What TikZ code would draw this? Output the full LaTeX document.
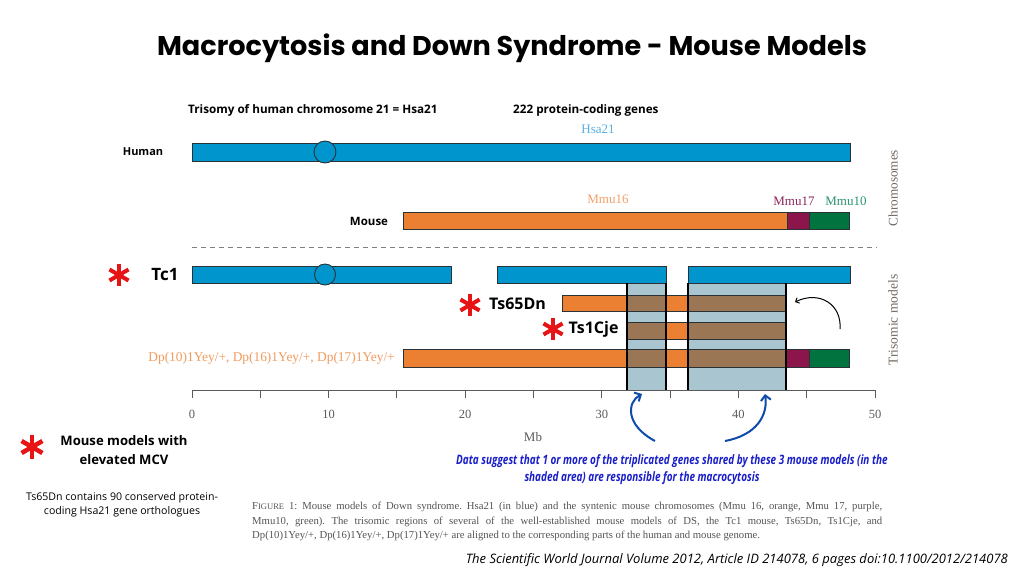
\documentclass[tikz,border=0pt]{standalone}
\usepackage{fontspec}
\setmainfont{Open Sans}
\newfontfamily\titlefont{Poppins}
\newfontfamily\serif{Liberation Serif}
\usetikzlibrary{arrows.meta}
\definecolor{hblue}{RGB}{0,150,205}
\definecolor{outl}{RGB}{40,50,55}
\definecolor{orng}{RGB}{235,128,50}
\definecolor{purp}{RGB}{140,22,75}
\definecolor{grn}{RGB}{0,115,62}
\definecolor{colshade}{RGB}{168,197,208}
\definecolor{brwn}{RGB}{155,118,84}
\definecolor{hsalbl}{RGB}{90,175,225}
\definecolor{mmusixc}{RGB}{242,160,105}
\definecolor{mmusevc}{RGB}{140,40,90}
\definecolor{mmutenc}{RGB}{40,150,110}
\definecolor{dplbl}{RGB}{240,155,95}
\definecolor{rotc}{RGB}{115,105,95}
\definecolor{starred}{RGB}{230,20,20}
\definecolor{msgblue}{RGB}{25,30,200}
\definecolor{arrowblue}{RGB}{15,75,170}
\definecolor{capgray}{RGB}{85,85,85}
\definecolor{axgray}{RGB}{90,90,90}
\newcommand\starat[4]{\foreach \a in {90,30,-30,-90,-150,150} \draw[starred, line width=#4] (#1,#2) -- ++(\a:#3);}
\frenchspacing
\begin{document}
\begin{tikzpicture}[x=1pt,y=-1pt,
  bar/.style={draw=outl, line width=0.9pt},
  boldlbl/.style={font=\bfseries\fontsize{11.7}{13}\selectfont, inner sep=0pt},
  serlbl/.style={font=\serif\fontsize{13}{15}\selectfont, inner sep=0pt},
  modlbl/.style={font=\bfseries\fontsize{16}{18}\selectfont, inner sep=0pt},
  ticklbl/.style={font=\serif\fontsize{12.5}{14}\selectfont, text=axgray, inner sep=0pt},
  capline/.style={font=\serif\fontsize{10.7}{12}\selectfont, text=capgray, inner sep=0pt, anchor=base west},
  msgline/.style={font=\bfseries\itshape\fontsize{11}{13}\selectfont, text=msgblue, inner sep=0pt},
  bluearrow/.style={draw=arrowblue, line width=2pt, -{Straight Barb[length=5pt,width=10pt,line width=2pt]}},
  colline/.style={draw=black, line width=2pt}]
\fill[white] (0,0) rectangle (1024,576);
\useasboundingbox (0,0) rectangle (1024,576);

% title
\node[font=\titlefont\bfseries\fontsize{27.1}{32}\selectfont, inner sep=0pt] (title) at (512,48) {Macrocytosis and Down Syndrome - Mouse Models};

% top labels
\node[boldlbl, anchor=west] (trisomy) at (188,110) {Trisomy of human chromosome 21 = Hsa21};
\node[boldlbl, anchor=west] (genes) at (513,110) {222 protein-coding genes};
\node[serlbl, text=hsalbl] (hsa) at (598,129) {Hsa21};

% human
\node[boldlbl, font=\bfseries\fontsize{11}{13}\selectfont] (human) at (143,152) {Human};
\draw[bar, fill=hblue] (192,143) rectangle (850,161);
\draw[bar, fill=hblue] (325,152) circle (11);

% mouse
\node[serlbl, text=mmusixc] (mmu16) at (608,199) {Mmu16};
\node[serlbl, text=mmusevc] (mmu17) at (794,201) {Mmu17};
\node[serlbl, text=mmutenc] (mmu10) at (846,201) {Mmu10};
\node[boldlbl, font=\bfseries\fontsize{11.5}{13}\selectfont] (mouse) at (369,221) {Mouse};
\draw[bar, fill=orng] (403,212) rectangle (787,229);
\draw[bar, fill=purp] (787,212) rectangle (809,229);
\draw[bar, fill=grn] (809,212) rectangle (849,229);

% separator
\draw[gray, line width=1pt, dash pattern=on 5pt off 4pt] (192,247) -- (877,247);

% side labels
\node[serlbl, font=\serif\fontsize{13.2}{15}\selectfont, rotate=90, text=rotc] (chrom) at (893,188) {Chromosomes};
\node[serlbl, font=\serif\fontsize{13.5}{15}\selectfont, rotate=90, text=rotc] (trimod) at (893,320) {Trisomic models};

% shaded columns
\fill[colshade] (627,283) rectangle (666,390);
\fill[colshade] (688,283) rectangle (786,390);

% Tc1
\starat{119}{275}{11}{4pt}
\node[modlbl, font=\bfseries\fontsize{17}{19}\selectfont] (tc1) at (165,275) {Tc1};
\draw[bar, fill=hblue] (192,266) rectangle (451,283);
\draw[bar, fill=hblue] (325,274.5) circle (10.5);
\draw[bar, fill=hblue] (497,266) rectangle (666,283);
\draw[bar, fill=hblue] (688,266) rectangle (850,283);

% Ts65Dn
\starat{470}{305}{11}{4pt}
\node[modlbl] (ts65) at (517.5,304) {Ts65Dn};
\draw[bar, fill=orng] (562,295) rectangle (627,311);
\draw[bar, fill=brwn] (627,295) rectangle (666,311);
\draw[bar, fill=orng] (666,295) rectangle (688,311);
\draw[bar, fill=brwn] (688,295) rectangle (786,311);

% Ts1Cje
\starat{553}{329}{11}{4pt}
\node[modlbl] (ts1) at (593.5,329) {Ts1Cje};
\draw[bar, fill=brwn] (627,322) rectangle (666,339);
\draw[bar, fill=orng] (666,322) rectangle (688,339);
\draw[bar, fill=brwn] (688,322) rectangle (786,339);

% Dp
\node[serlbl, text=dplbl, anchor=east, font=\serif\fontsize{13.4}{15}\selectfont] (dp) at (395,358) {Dp(10)1Yey/+, Dp(16)1Yey/+, Dp(17)1Yey/+};
\draw[bar, fill=orng] (403,349) rectangle (627,367);
\draw[bar, fill=brwn] (627,349) rectangle (666,367);
\draw[bar, fill=orng] (666,349) rectangle (688,367);
\draw[bar, fill=brwn] (688,349) rectangle (786,367);
\draw[bar, fill=purp] (786,349) rectangle (809,367);
\draw[bar, fill=grn] (809,349) rectangle (849,367);

% column edges
\draw[colline] (627,283) -- (627,390);
\draw[colline] (666,283) -- (666,390);
\draw[colline] (688,283) -- (688,390);
\draw[colline] (786,283) -- (786,390);

% axis
\draw[axgray, line width=1pt] (192,390) -- (875,390);
\foreach \v in {0,5,...,50} \draw[axgray, line width=1pt] ({192+13.66*\v},390) -- ++(0,8);
\foreach \v in {0,10,...,50} \node[ticklbl] at ({192+13.66*\v},414) {\v};
\node[ticklbl, font=\serif\fontsize{13}{14}\selectfont] (mb) at (533,437) {Mb};

% black arrow
\coordinate (barrtail) at (840,329);
\coordinate (barrhead) at (795,302);
\draw[black, line width=1pt, -{Straight Barb[length=3pt,width=6pt]}] (barrtail) .. controls (842,305) and (820,290) .. (barrhead);

% blue arrows
\coordinate (la-tail) at (655,441);
\coordinate (la-head) at (642,394);
\coordinate (ra-tail) at (725,441);
\coordinate (ra-head) at (765,394);
\draw[bluearrow] (la-tail) .. controls (625,425) and (627,402) .. (la-head);
\draw[bluearrow] (ra-tail) .. controls (757,435) and (768,415) .. (ra-head);

% message
\node[msgline] (msg1) at (672,461) {\scalebox{0.905}[1.18]{Data suggest that 1 or more of the triplicated genes shared by these 3 mouse models (in the}};
\node[msgline] (msg2) at (642,478) {\scalebox{0.905}[1.18]{shaded area) are responsible for the macrocytosis}};

% legend
\starat{32}{447}{12}{4.5pt}
\node[font=\bfseries\fontsize{13.1}{19}\selectfont, align=center, inner sep=0pt] (legend) at (124,450) {Mouse models with\\elevated MCV};
\node[font=\fontsize{10.6}{14}\selectfont, align=center, inner sep=0pt] (note) at (122,505) {Ts65Dn contains 90 conserved protein-\\coding Hsa21 gene orthologues};

% caption
\node[capline] (cap1) at (252,509) {\makebox[630pt][s]{F{\fontsize{8.5}{10}\selectfont IGURE} 1: Mouse models of Down syndrome. Hsa21 (in blue) and the syntenic mouse chromosomes (Mmu 16, orange, Mmu 17, purple,}};
\node[capline] (cap2) at (252,524) {\makebox[630pt][s]{Mmu10, green). The trisomic regions of several of the well-established mouse models of DS, the Tc1 mouse, Ts65Dn, Ts1Cje, and}};
\node[capline] (cap3) at (252,538) {Dp(10)1Yey/+, Dp(16)1Yey/+, Dp(17)1Yey/+ are aligned to the corresponding parts of the human and mouse genome.};

% citation
\node[font=\itshape\fontsize{13}{15}\selectfont, anchor=east, inner sep=0pt] (cite) at (1008,560) {The Scientific World Journal Volume 2012, Article ID 214078, 6 pages doi:10.1100/2012/214078};
\end{tikzpicture}
\end{document}
